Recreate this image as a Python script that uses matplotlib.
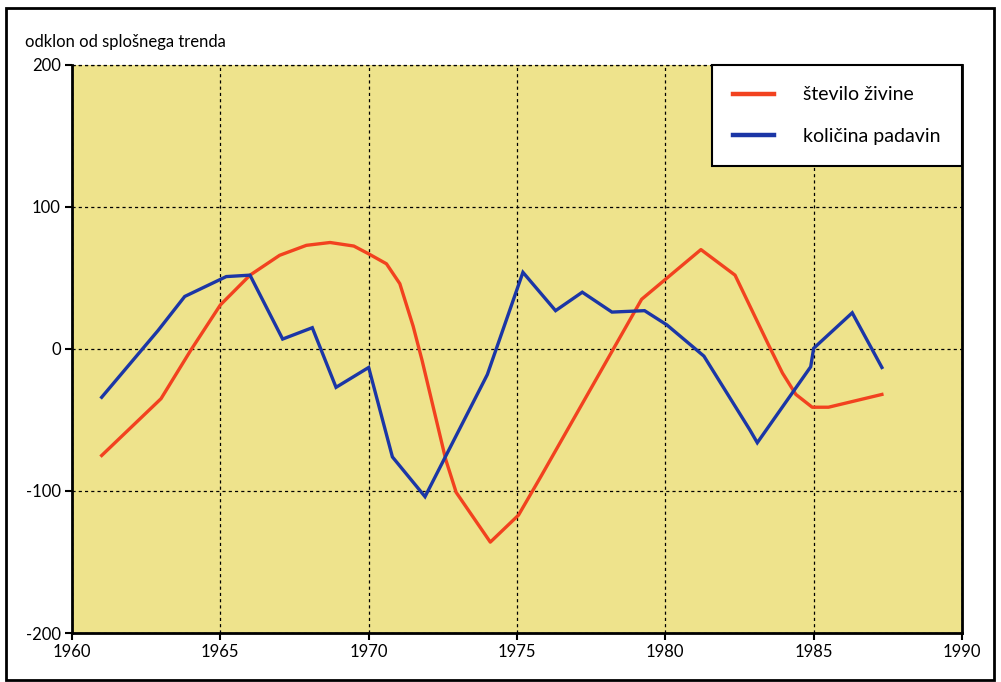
import matplotlib

matplotlib.use("Agg")
import matplotlib.pyplot as plt
from matplotlib.patches import Rectangle

plt.rcParams["axes.unicode_minus"] = False

# series
livestock_years = [1961.0, 1963.0, 1964.0, 1965.0, 1966.0, 1967.0, 1967.9, 1968.7, 1969.5,
                   1970.0, 1970.6, 1971.05, 1971.5, 1971.8, 1972.2, 1972.6, 1972.95, 1974.1,
                   1975.05, 1975.8, 1979.2, 1981.2, 1982.35, 1983.5, 1983.95, 1984.4,
                   1984.95, 1985.5, 1987.3]
livestock = [-75, -35, -1, 31, 52, 66, 73, 75, 72.5,
             67, 60, 46, 16, -8, -43, -78, -101, -136,
             -117, -90, 35, 70, 52, 2, -17, -32,
             -41, -41, -32]

rain_years = [1961.0, 1962.9, 1963.8, 1965.2, 1966.0, 1967.1, 1968.1, 1968.9, 1970.0,
              1970.8, 1971.9, 1974.0, 1975.2, 1976.3, 1977.2, 1978.2, 1979.3, 1980.05,
              1981.3, 1982.85, 1983.1, 1984.9, 1985.0, 1986.3, 1987.3]
rain = [-34, 13, 37, 51, 52, 7, 15, -27, -13,
        -76, -104, -18, 54, 27, 40, 26, 27, 17,
        -5, -57, -66, -12.5, 0.5, 25.5, -13]

x_ticks = [1960, 1965, 1970, 1975, 1980, 1985, 1990]
y_ticks = [-200, -100, 0, 100, 200]

BG = "#EEE38C"
RED = "#F2421F"
BLUE = "#1B36A6"
tick_font = ["Lato", "DejaVu Sans"]

fig = plt.figure(figsize=(10.01, 6.82), dpi=100)
ax = fig.add_axes([72 / 1001, 1 - 633 / 682, 890 / 1001, 568 / 682])
ax.set_facecolor(BG)

ax.plot(livestock_years, livestock, color=RED, lw=2.4, label="število živine",
        solid_joinstyle="round", zorder=3)
ax.plot(rain_years, rain, color=BLUE, lw=2.4, label="količina padavin",
        solid_joinstyle="miter", zorder=3)

ax.set_xlim(1960, 1990)
ax.set_ylim(-200, 200)
ax.set_xticks(x_ticks)
ax.set_yticks(y_ticks)
for lbl in ax.get_xticklabels() + ax.get_yticklabels():
    lbl.set_family(tick_font)
    lbl.set_fontsize(12)
ax.tick_params(direction="out", length=5, width=1.5, color="black", pad=3)

ax.grid(True, color="black", linestyle=(0, (2.5, 2.5)), linewidth=0.9)
ax.spines["top"].set_visible(False)
for side in ("left", "bottom", "right"):
    ax.spines[side].set_linewidth(2)
ax.axhline(200, color="black", linestyle=(0, (2.5, 2.5)), linewidth=0.9, clip_on=False)

fig.text(25 / 1001, 1 - 42 / 682, "odklon od splošnega trenda", family=["Lato", "DejaVu Sans"],
         fontsize=12, va="center", ha="left")

leg = ax.legend(loc="upper right", bbox_to_anchor=(1.0, 1.0), frameon=True, fancybox=False,
                prop={"family": ["Lato", "DejaVu Sans"], "size": 14},
                handlelength=2.1, handletextpad=1.5, borderpad=1.1, labelspacing=1.25,
                borderaxespad=0)
leg.get_frame().set_edgecolor("black")
leg.get_frame().set_linewidth(1.5)
leg.get_frame().set_alpha(1)
for line in leg.get_lines():
    line.set_linewidth(3.2)

fig.patches.append(Rectangle((6 / 1001, 2 / 682), 988 / 1001, 672 / 682, fill=False,
                             edgecolor="black", linewidth=2, transform=fig.transFigure))

fig.savefig("out.png", dpi=100)
plt.close(fig)
